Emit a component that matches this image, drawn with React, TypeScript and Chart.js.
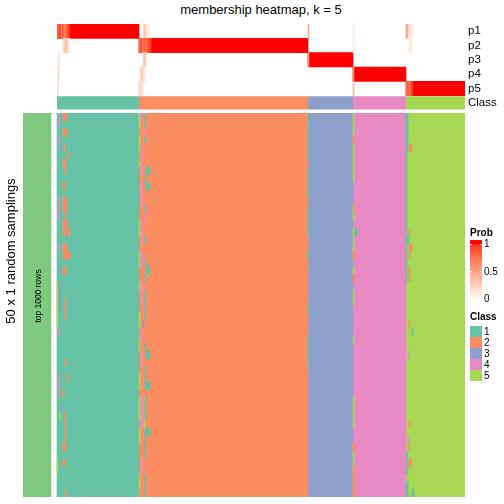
import React, { useEffect, useRef } from "react";
import { Chart, registerables } from "chart.js";
Chart.register(...registerables);

// ---------------- data ----------------
const CLASS_LABELS = ["1", "2", "3", "4", "5"];
const CLASS_COLORS = ["#66C2A5", "#FC8D62", "#8DA0CB", "#E78AC3", "#A6D854"];
// number of sample columns per class (columns are ordered by class)
const CLASS_COUNTS = [82, 169, 45, 53, 59];
const PROB_ROWS = ["p1", "p2", "p3", "p4", "p5"];
const PROB_TICKS = [1, 0.5, 0];
const N_SAMPLINGS = 50;
const LEFT_BAR_COLOR = "#7FC97F";
const TITLE = "membership heatmap, k = 5";
const ROW_TITLE = "50 x 1 random samplings";
const LEFT_BAR_LABEL = "top 1000 rows";

// membership probability deviations from the class block (row, colStart, colEnd, prob)
const PROB_EXCEPTIONS: [number, number, number, number][] = [
  [0, 0, 1, 0.85], [0, 1, 2, 0.7], [0, 2, 4, 0.9], [0, 4, 5, 0.6], [0, 5, 7, 0.8], [0, 7, 8, 0.55],
  [0, 8, 10, 0.7], [0, 10, 12, 0.85], [0, 12, 13, 0.95],
  [0, 86, 87, 0.15], [0, 87, 89, 0.3], [0, 89, 91, 0.15], [0, 91, 93, 0.08],
  [0, 251, 252, 0.45], [0, 296, 297, 0.1], [0, 349, 351, 0.5], [0, 351, 353, 0.25], [0, 353, 356, 0.1],
  [1, 6, 8, 0.2], [1, 8, 10, 0.35], [1, 10, 12, 0.2], [1, 12, 13, 0.1],
  [1, 82, 84, 0.75], [1, 84, 85, 0.9], [1, 85, 87, 0.65], [1, 87, 88, 0.85], [1, 88, 90, 0.7],
  [1, 90, 92, 0.8], [1, 92, 94, 0.9], [1, 296, 297, 0.08], [1, 352, 355, 0.12],
  [2, 0, 1, 0.1], [2, 2, 3, 0.15], [2, 86, 87, 0.2], [2, 87, 89, 0.3], [2, 251, 252, 0.55],
  [3, 1, 2, 0.25], [3, 83, 84, 0.15], [3, 84, 86, 0.3], [3, 86, 88, 0.15], [3, 296, 297, 0.6],
  [4, 0, 1, 0.2], [4, 1, 2, 0.1], [4, 82, 84, 0.25], [4, 84, 86, 0.15], [4, 296, 297, 0.35],
  [4, 349, 350, 0.65], [4, 350, 352, 0.8], [4, 352, 354, 0.7], [4, 354, 356, 0.9],
];

// sampling cells whose class differs from the consensus (rowStart, rowEnd, colStart, colEnd, class)
const CLASS_EXCEPTIONS: [number, number, number, number, number][] = [
  // class 1 block
  [0, 0, 6, 10, 2], [2, 2, 6, 10, 2], [4, 4, 7, 8, 2], [5, 5, 11, 12, 2], [6, 6, 6, 9, 2],
  [7, 7, 8, 9, 2], [9, 9, 6, 8, 2], [11, 12, 6, 10, 2], [12, 13, 8, 9, 2], [14, 15, 6, 9, 2],
  [14, 14, 10, 11, 2], [15, 15, 11, 13, 2], [17, 18, 6, 10, 2], [18, 18, 9, 13, 2], [20, 20, 6, 9, 2],
  [24, 26, 8, 9, 2], [32, 32, 8, 9, 2], [34, 34, 10, 11, 2], [36, 36, 6, 7, 2], [39, 39, 8, 9, 2],
  [40, 42, 8, 9, 2], [43, 43, 6, 9, 2], [45, 45, 6, 8, 2], [49, 49, 8, 9, 2],
  [0, 1, 1, 2, 4], [3, 3, 1, 2, 4], [11, 13, 1, 2, 4], [17, 17, 1, 2, 4], [28, 28, 1, 2, 4], [34, 36, 1, 2, 4],
  [4, 4, 4, 6, 3], [20, 20, 2, 3, 3], [22, 25, 2, 3, 3], [38, 38, 5, 6, 3],
  [22, 27, 0, 1, 5], [39, 39, 3, 4, 5], [45, 46, 0, 1, 5],
  // class 2 block
  [0, 1, 82, 83, 5], [3, 4, 82, 83, 5], [6, 6, 82, 83, 5], [14, 15, 82, 83, 5], [18, 19, 82, 83, 5],
  [22, 22, 82, 83, 5], [26, 27, 82, 83, 5], [29, 30, 82, 83, 5], [34, 35, 82, 83, 5], [37, 39, 82, 83, 5],
  [41, 42, 82, 83, 5], [47, 48, 82, 83, 5],
  [0, 0, 84, 86, 4], [4, 7, 85, 86, 4], [9, 11, 84, 85, 4], [14, 16, 85, 86, 4], [18, 19, 84, 86, 4],
  [22, 24, 85, 86, 4], [28, 29, 84, 85, 4], [31, 32, 85, 86, 4], [37, 40, 84, 86, 4], [45, 46, 85, 86, 4],
  [2, 2, 87, 88, 4], [12, 13, 87, 88, 4], [25, 25, 87, 88, 4],
  [0, 1, 88, 89, 1], [3, 3, 88, 89, 1], [8, 8, 88, 89, 1], [12, 12, 88, 89, 1], [16, 16, 88, 89, 1],
  [19, 19, 88, 89, 1], [21, 21, 88, 89, 1], [23, 26, 88, 89, 1], [30, 30, 88, 89, 1], [33, 35, 88, 89, 1],
  [37, 39, 88, 89, 1], [41, 44, 88, 89, 1], [47, 49, 88, 89, 1],
  [7, 7, 89, 93, 1], [9, 9, 89, 93, 1], [20, 20, 89, 93, 1], [31, 31, 89, 93, 1], [35, 35, 89, 93, 1], [41, 41, 89, 93, 1],
  [37, 37, 87, 88, 5], [39, 40, 87, 88, 5], [27, 27, 86, 87, 3],
  // class 3 block
  [0, 5, 251, 252, 1], [7, 10, 251, 252, 1], [12, 15, 251, 252, 1], [18, 18, 251, 252, 1],
  [25, 25, 251, 252, 1], [29, 32, 251, 252, 1],
  // class 4 block
  [0, 2, 296, 297, 5], [4, 8, 296, 297, 5], [12, 13, 296, 297, 5], [15, 18, 296, 297, 5], [20, 20, 296, 297, 5],
  [23, 24, 296, 297, 5], [29, 29, 296, 297, 5], [37, 40, 296, 297, 5], [43, 46, 296, 297, 5],
  [3, 3, 296, 298, 2], [12, 12, 297, 298, 2], [18, 18, 296, 298, 2], [21, 21, 296, 298, 2],
  [43, 43, 296, 298, 2], [46, 49, 296, 298, 2], [15, 15, 298, 300, 1],
  // class 5 block
  [0, 4, 349, 351, 1], [5, 21, 349, 350, 1], [16, 16, 349, 352, 1], [44, 46, 350, 351, 1], [48, 49, 349, 351, 1],
  [4, 4, 352, 355, 2], [17, 17, 352, 355, 2], [45, 45, 352, 355, 2],
  [15, 15, 352, 353, 2], [18, 18, 352, 353, 2], [20, 21, 352, 353, 2], [27, 27, 352, 353, 2],
  [40, 40, 352, 353, 2], [43, 43, 352, 353, 2],
  [28, 28, 355, 356, 1], [49, 49, 355, 357, 1], [31, 31, 351, 352, 4], [42, 42, 351, 352, 4],
];

// ---------------- colour helpers (white -> red in LAB space) ----------------
function toLin(c: number) { c /= 255; return c <= 0.04045 ? c / 12.92 : Math.pow((c + 0.055) / 1.055, 2.4); }
function fromLin(c: number) {
  c = Math.min(1, Math.max(0, c));
  return Math.round(255 * (c <= 0.0031308 ? 12.92 * c : 1.055 * Math.pow(c, 1 / 2.4) - 0.055));
}
function rgbToLab(rgb: number[]) {
  const [r, g, b] = rgb.map(toLin);
  const X = (0.4124 * r + 0.3576 * g + 0.1805 * b) / 0.95047;
  const Y = 0.2126 * r + 0.7152 * g + 0.0722 * b;
  const Z = (0.0193 * r + 0.1192 * g + 0.9505 * b) / 1.08883;
  const f = (t: number) => (t > 0.008856 ? Math.cbrt(t) : 7.787 * t + 16 / 116);
  const fx = f(X), fy = f(Y), fz = f(Z);
  return [116 * fy - 16, 500 * (fx - fy), 200 * (fy - fz)];
}
function labToRgb(lab: number[]) {
  const [L, a, bb] = lab;
  const fy = (L + 16) / 116, fx = fy + a / 500, fz = fy - bb / 200;
  const inv = (t: number) => (t * t * t > 0.008856 ? t * t * t : (t - 16 / 116) / 7.787);
  const X = inv(fx) * 0.95047, Y = inv(fy), Z = inv(fz) * 1.08883;
  const r = 3.2406 * X - 1.5372 * Y - 0.4986 * Z;
  const g = -0.9689 * X + 1.8758 * Y + 0.0415 * Z;
  const b = 0.0557 * X - 0.204 * Y + 1.057 * Z;
  return [fromLin(r), fromLin(g), fromLin(b)];
}
const LAB_WHITE = rgbToLab([255, 255, 255]);
const LAB_RED = rgbToLab([255, 0, 0]);
function probColor(p: number) {
  const lab = LAB_WHITE.map((v, i) => v + (LAB_RED[i] - v) * p);
  const [r, g, b] = labToRgb(lab);
  return `rgb(${r},${g},${b})`;
}

// ---------------- layout ----------------
const W = 504;
const HM_LEFT = 57;
const HM_RIGHT = 465;
const TOP_Y = 24;
const TOP_H = 86;
const MAIN_Y = 113;
const MAIN_H = 384;
const LEFT_BAR_X0 = 23;
const LEFT_BAR_X1 = 51;
const FONT = '"Liberation Sans", Arial, Helvetica, sans-serif';

const N_COLS = CLASS_COUNTS.reduce((a, b) => a + b, 0);
const CLASS_START = CLASS_COUNTS.map((_, i) => CLASS_COUNTS.slice(0, i).reduce((a, b) => a + b, 0));
const UNIT = (HM_RIGHT - HM_LEFT) / N_COLS;
const ROW_LABELS = Array.from({ length: N_SAMPLINGS }, (_, i) => String(i + 1));
const TOP_LABELS = [...PROB_ROWS, "Class"];
const ALL = "all";

const baseOptions = (padLeft: number, xmin: number) => ({
  indexAxis: "y" as const,
  animation: false as const,
  responsive: false,
  events: [] as any[],
  layout: { padding: { left: padLeft, right: W - HM_RIGHT, top: 0, bottom: 0 } },
  plugins: { legend: { display: false }, tooltip: { enabled: false }, title: { display: false } },
  scales: {
    x: { type: "linear" as const, min: xmin, max: N_COLS, display: false },
    y: { type: "category" as const, display: false, offset: true },
    yb: { type: "category" as const, labels: [ALL], display: false, offset: true, position: "left" as const },
  },
  datasets: {
    bar: { grouped: false, categoryPercentage: 1, barPercentage: 1, borderWidth: 0, borderSkipped: false },
  },
});

function TopAnnotation() {
  const ref = useRef<HTMLCanvasElement>(null);
  useEffect(() => {
    const datasets: any[] = [];
    datasets.push({
      order: 3,
      data: CLASS_COUNTS.map((_, k) => ({ y: PROB_ROWS[k], x: [CLASS_START[k], CLASS_START[k] + CLASS_COUNTS[k]] })),
      backgroundColor: probColor(1),
    });
    datasets.push({
      order: 2,
      data: PROB_EXCEPTIONS.map(([r, c0, c1]) => ({ y: PROB_ROWS[r], x: [c0, c1] })),
      backgroundColor: PROB_EXCEPTIONS.map(([, , , p]) => probColor(p)),
    });
    datasets.push({
      order: 1,
      barPercentage: 0.93,
      data: CLASS_COUNTS.map((_, k) => ({ y: "Class", x: [CLASS_START[k], CLASS_START[k] + CLASS_COUNTS[k]] })),
      backgroundColor: CLASS_COLORS,
    });
    const opts: any = baseOptions(HM_LEFT, 0);
    delete opts.scales.yb;
    const chart = new Chart(ref.current!, {
      type: "bar",
      data: { labels: TOP_LABELS, datasets },
      options: opts,
    });
    return () => chart.destroy();
  }, []);
  return <canvas ref={ref} width={W} height={TOP_H} style={{ position: "absolute", left: 0, top: TOP_Y }} />;
}

function MainHeatmap() {
  const ref = useRef<HTMLCanvasElement>(null);
  useEffect(() => {
    const xmin = -(HM_LEFT - LEFT_BAR_X0) / UNIT;
    const datasets: any[] = [];
    // full-height left annotation bar and consensus class blocks (one bar each, drawn underneath)
    datasets.push({
      order: 10,
      yAxisID: "yb",
      data: [{ y: ALL, x: [xmin, -(HM_LEFT - LEFT_BAR_X1) / UNIT] }],
      backgroundColor: LEFT_BAR_COLOR,
    });
    CLASS_COUNTS.forEach((n, k) => {
      datasets.push({
        order: 10,
        yAxisID: "yb",
        data: [{ y: ALL, x: [CLASS_START[k], CLASS_START[k] + n] }],
        backgroundColor: CLASS_COLORS[k],
      });
    });
    // per-sampling deviating cells, drawn on top
    CLASS_LABELS.forEach((_, k) => {
      const pts: any[] = [];
      CLASS_EXCEPTIONS.filter((e) => e[4] === k + 1).forEach(([r0, r1, c0, c1]) => {
        for (let r = r0; r <= r1; r++) pts.push({ y: ROW_LABELS[r], x: [c0, c1] });
      });
      datasets.push({ order: 1, yAxisID: "y", data: pts, backgroundColor: CLASS_COLORS[k] });
    });
    const chart = new Chart(ref.current!, {
      type: "bar",
      data: { labels: ROW_LABELS, datasets },
      options: baseOptions(LEFT_BAR_X0, xmin) as any,
    });
    return () => chart.destroy();
  }, []);
  return <canvas ref={ref} width={W} height={MAIN_H} style={{ position: "absolute", left: 0, top: MAIN_Y }} />;
}

const txt = (extra: React.CSSProperties): React.CSSProperties => ({
  position: "absolute",
  fontFamily: FONT,
  color: "#000",
  whiteSpace: "nowrap",
  lineHeight: 1,
  ...extra,
});

export default function App() {
  const gradStops = Array.from({ length: 11 }, (_, i) => `${probColor(1 - i / 10)} ${(i * 10).toFixed(0)}%`).join(", ");
  const gradTop = 244, gradBottom = 299;
  return (
    <div style={{ position: "absolute", left: 0, top: 0, width: W, height: W, background: "#fff", overflow: "hidden" }}>
      <TopAnnotation />
      <MainHeatmap />
      <div style={txt({ left: (HM_LEFT + HM_RIGHT) / 2, top: 9, fontSize: 13, transform: "translate(-50%, -50%)" })}>{TITLE}</div>
      {TOP_LABELS.map((l, i) => (
        <div key={l} style={txt({ left: 468, top: TOP_Y + TOP_H / 6 * (i + 0.5), fontSize: 11.5, transform: "translateY(-50%)" })}>{l}</div>
      ))}
      <div style={txt({ left: 9.5, top: 251, fontSize: 13, transform: "translate(-50%, -50%) rotate(-90deg)" })}>{ROW_TITLE}</div>
      <div style={txt({ left: 37.5, top: 296, fontSize: 8.5, transform: "translate(-50%, -50%) rotate(-90deg)" })}>{LEFT_BAR_LABEL}</div>
      {/* Prob legend */}
      <div style={txt({ left: 470, top: 233, fontSize: 10, fontWeight: "bold", transform: "translateY(-50%)" })}>Prob</div>
      <div style={{ position: "absolute", left: 470, top: 240, width: 12, height: 60,
        background: `linear-gradient(to bottom, ${probColor(1)} 0px, ${probColor(1)} ${gradTop - 240}px, white ${gradBottom - 240}px, white 60px)` }}>
        <div style={{ position: "absolute", left: 0, top: 0, right: 0, bottom: 0, background: `linear-gradient(to bottom, ${gradStops})`, clipPath: `inset(${gradTop - 240}px 0 ${300 - gradBottom}px 0)` }} />
      </div>
      {PROB_TICKS.map((t) => {
        const y = gradBottom - (gradBottom - gradTop) * t;
        return (
          <React.Fragment key={t}>
            <div style={{ position: "absolute", left: 470, top: y - 0.5, width: 2, height: 1, background: "#fff" }} />
            <div style={{ position: "absolute", left: 480, top: y - 0.5, width: 2, height: 1, background: "#fff" }} />
            <div style={txt({ left: 484, top: y, fontSize: 10, transform: "translateY(-50%)" })}>{String(t)}</div>
          </React.Fragment>
        );
      })}
      {/* Class legend */}
      <div style={txt({ left: 470, top: 317, fontSize: 10, fontWeight: "bold", transform: "translateY(-50%)" })}>Class</div>
      {CLASS_LABELS.map((l, i) => (
        <React.Fragment key={l}>
          <div style={{ position: "absolute", left: 470, top: 326 + 11 * i, width: 12, height: 11, background: CLASS_COLORS[i] }} />
          <div style={txt({ left: 484, top: 326 + 11 * i + 5.5, fontSize: 10, transform: "translateY(-50%)" })}>{l}</div>
        </React.Fragment>
      ))}
    </div>
  );
}
